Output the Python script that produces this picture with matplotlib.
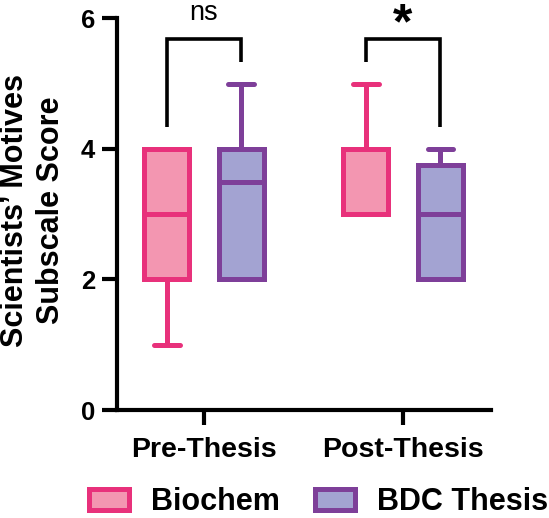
import matplotlib
matplotlib.use('Agg')
import matplotlib.pyplot as plt
from matplotlib.patches import Patch

plt.rcParams['font.family'] = ['Liberation Sans', 'DejaVu Sans']

# ---- data ----
groups = ['Pre-Thesis', 'Post-Thesis']
series = ['Biochem', 'BDC Thesis']
biochem_min = [1, 3]
biochem_q1 = [2, 3]
biochem_med = [3, 4]
biochem_q3 = [4, 4]
biochem_max = [4, 5]
bdc_min = [2, 2]
bdc_q1 = [2, 2]
bdc_med = [3.5, 3]
bdc_q3 = [4, 3.75]
bdc_max = [5, 4]
yticks = [0, 2, 4, 6]
sig_labels = ['ns', '*']

# ---- style ----
edge_colors = ['#E8317B', '#7E3F99']
fill_colors = ['#F396B1', '#A3A3D2']
offset = 0.188
box_w = 0.223
lw = 3.6

fig = plt.figure(figsize=(5.49, 5.18), dpi=100)
W, H = 549, 518
ax = fig.add_axes([116.5 / W, 1 - 410 / H, (491 - 116.5) / W, (410 - 18.3) / H])

series_stats = [
    (biochem_min, biochem_q1, biochem_med, biochem_q3, biochem_max),
    (bdc_min, bdc_q1, bdc_med, bdc_q3, bdc_max),
]
for si, (mn, q1, med, q3, mx) in enumerate(series_stats):
    stats = []
    for gi in range(len(groups)):
        stats.append(dict(whislo=mn[gi], q1=q1[gi], med=med[gi], q3=q3[gi],
                          whishi=mx[gi], fliers=[]))
    pos = [gi + (2 * si - 1) * offset for gi in range(len(groups))]
    ax.bxp(stats, positions=pos, widths=box_w, patch_artist=True,
           showfliers=False, capwidths=0.13,
           boxprops=dict(facecolor=fill_colors[si], edgecolor=edge_colors[si],
                         linewidth=lw, joinstyle='miter'),
           medianprops=dict(color=edge_colors[si], linewidth=lw,
                            solid_capstyle='butt'),
           whiskerprops=dict(color=edge_colors[si], linewidth=lw,
                             solid_capstyle='butt'),
           capprops=dict(color=edge_colors[si], linewidth=lw,
                         solid_capstyle='round'),
           manage_ticks=False)

# significance brackets
all_max = max(max(biochem_max), max(bdc_max))
for gi in range(len(groups)):
    x1 = gi - offset
    x2 = gi + offset
    top = all_max + 0.68
    y1 = biochem_max[gi] + 0.33
    y2 = bdc_max[gi] + 0.33
    ax.plot([x1, x1, x2, x2], [y1, top, top, y2], color='black', lw=2.6,
            solid_joinstyle='miter', solid_capstyle='butt', clip_on=False)
    if sig_labels[gi] == 'ns':
        ax.text(gi, 5.98, 'ns', ha='center', va='baseline', fontsize=19.5,
                clip_on=False)
    else:
        ax.text(gi, 5.70, '*', ha='center', va='baseline', fontsize=36,
                fontweight='bold', clip_on=False)

ax.set_xlim(-0.4397, 1.442)
ax.set_ylim(0, 6)
ax.set_yticks(yticks)
ax.set_xticks(range(len(groups)))
ax.set_xticklabels(groups, fontsize=20.5, fontweight='bold')
ax.set_yticklabels([str(v) for v in yticks], fontsize=18.5, fontweight='bold')
for s in ['top', 'right']:
    ax.spines[s].set_visible(False)
for s in ['left', 'bottom']:
    ax.spines[s].set_linewidth(3)
ax.tick_params(axis='y', length=10.5, width=3, pad=5)
ax.tick_params(axis='x', length=11, width=3, pad=8.5)

ax.set_ylabel('Scientists\u2019 Motives\nSubscale Score', fontsize=22,
              fontweight='bold', va='center', linespacing=1.25)
ax.yaxis.set_label_coords(-0.222, 0.51)

handles = [Patch(facecolor=fill_colors[i], edgecolor=edge_colors[i], linewidth=lw,
                 joinstyle='miter') for i in range(len(series))]
fig.legend(handles, series, loc='center', bbox_to_anchor=(0.581, 0.031), ncol=2,
           frameon=False, prop=dict(size=22, weight='bold'), handlelength=1.31,
           handleheight=0.70, handletextpad=0.72, columnspacing=1.15, borderpad=0)

fig.savefig('out.png', dpi=100)
